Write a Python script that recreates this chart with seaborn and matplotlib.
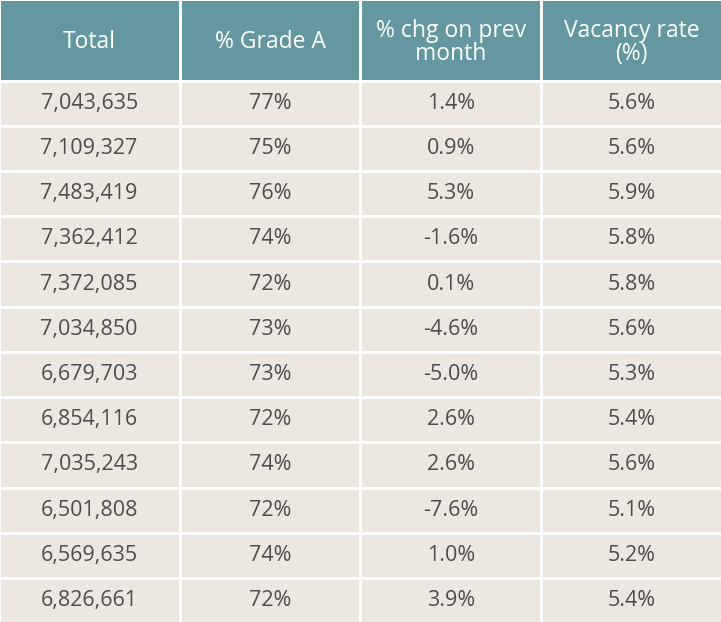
import numpy as np
import pandas as pd
import matplotlib
matplotlib.use("Agg")
import matplotlib.pyplot as plt
from matplotlib.colors import ListedColormap
import seaborn as sns

# table data
headers = ["Total", "% Grade A", "% chg on prev\nmonth", "Vacancy rate\n(%)"]
total = [7043635, 7109327, 7483419, 7362412, 7372085, 7034850,
         6679703, 6854116, 7035243, 6501808, 6569635, 6826661]
grade_a = [77, 75, 76, 74, 72, 73, 73, 72, 74, 72, 74, 72]
chg_prev = [1.4, 0.9, 5.3, -1.6, 0.1, -4.6, -5.0, 2.6, 2.6, -7.6, 1.0, 3.9]
vacancy = [5.6, 5.6, 5.9, 5.8, 5.8, 5.6, 5.3, 5.4, 5.6, 5.1, 5.2, 5.4]

df = pd.DataFrame({
    "Total": [f"{v:,}" for v in total],
    "% Grade A": [f"{v}%" for v in grade_a],
    "chg": [f"{v:.1f}%" for v in chg_prev],
    "vac": [f"{v:.1f}%" for v in vacancy],
})

sns.set_theme(style="white")
plt.rcParams['font.family'] = ['Open Sans', 'DejaVu Sans']

W, H = 721, 622
fig = plt.figure(figsize=(W / 100, H / 100), dpi=100)
lw = 1.8            # points
half = lw / 72 * 100 / 2   # half line in px
hdr = 80.5          # header bottom in px from top

# header
ax_h = fig.add_axes([-half / W, (H - hdr) / H, (W + 2 * half) / W, (hdr + half) / H])
sns.heatmap(np.zeros((1, 4)), ax=ax_h, cmap=ListedColormap(["#6597a1"]),
            cbar=False, linewidths=lw, linecolor="white",
            annot=np.array([headers]), fmt="",
            annot_kws={"color": "white", "fontsize": 16.5, "linespacing": 0.95})
ax_h.set_xticks([])
ax_h.set_yticks([])
for t in ax_h.texts:
    t.set_y(t.get_position()[1] + 0.03)

# body
ax_b = fig.add_axes([-half / W, -half / H, (W + 2 * half) / W, (H - hdr + half) / H])
sns.heatmap(np.zeros(df.shape), ax=ax_b, cmap=ListedColormap(["#ece8e1"]),
            cbar=False, linewidths=lw, linecolor="white",
            annot=df.values, fmt="",
            annot_kws={"color": "#4d4d4d", "fontsize": 15.5})
ax_b.set_xticks([])
ax_b.set_yticks([])

fig.savefig("out.png", dpi=100, facecolor="white")
